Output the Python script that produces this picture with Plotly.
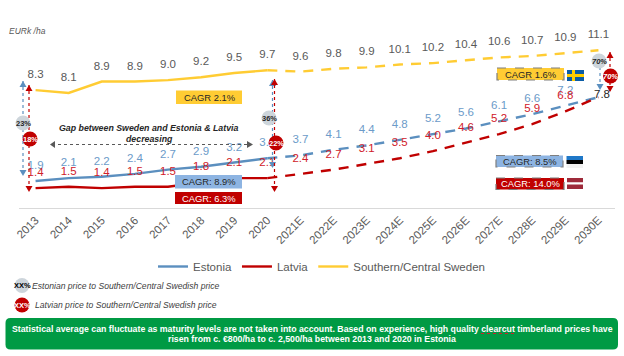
import plotly.graph_objects as go

years = ["2013","2014","2015","2016","2017","2018","2019","2020","2021E","2022E","2023E","2024E","2025E","2026E","2027E","2028E","2029E","2030E"]
estonia = [1.9,2.1,2.2,2.4,2.7,2.9,3.2,3.5,3.7,4.1,4.4,4.8,5.2,5.6,6.1,6.6,7.2,7.8]
latvia = [1.4,1.5,1.4,1.5,1.5,1.8,2.1,2.1,2.4,2.7,3.1,3.5,4.0,4.6,5.2,5.9,6.8,7.8]
sweden = [8.3,8.1,8.9,8.9,9.0,9.2,9.5,9.7,9.6,9.8,9.9,10.1,10.2,10.4,10.6,10.7,10.9,11.1]
HIST = 8  # points through 2020 are actual values

BLUE, RED, YEL = "#5B8FBF", "#C00000", "#FFCC33"
LBLUE, LRED, GREY = "#6C9BC9", "#D0202A", "#595959"
FONT = "Liberation Sans, Arial, sans-serif"
W, H = 624, 356
L, R, T, B = 19, 615, 30, 208

fig = go.Figure()

def series(name, vals, col, lab, labels_upto=18):
    fig.add_trace(go.Scatter(x=years[:HIST], y=vals[:HIST], mode="lines", name=name,
                             line=dict(color=col, width=2.4)))
    fig.add_trace(go.Scatter(x=years[HIST-1:], y=vals[HIST-1:], mode="lines", showlegend=False,
                             line=dict(color=col, width=2.4, dash="10px,8px")))
    fig.add_trace(go.Scatter(x=years[:labels_upto], y=vals[:labels_upto], mode="markers+text",
                             showlegend=False, hoverinfo="skip",
                             marker=dict(size=13, opacity=0),
                             text=[f"{v:.1f}" for v in vals[:labels_upto]],
                             textposition="top center",
                             textfont=dict(color=lab, size=11.5, family=FONT)))

series("Estonia", estonia, BLUE, LBLUE, 17)
series("Latvia", latvia, RED, LRED, 17)
series("Southern/Central Sweden", sweden, YEL, GREY)

def fx(p): return (p - L) / (R - L)
def fy(p): return (B - p) / (B - T)

shapes, anns = [], []

def rect(x0, y0, x1, y1, fill, line=None, dash=None):
    shapes.append(dict(type="rect", xref="paper", yref="paper", x0=fx(x0), x1=fx(x1), y0=fy(y0), y1=fy(y1),
                       fillcolor=fill, layer="above",
                       line=dict(color=line or fill, width=1.2 if line else 0, dash=dash or "solid")))

def text(x, y, s, size=9, color="#262626", anchor="center", bold=False, italic=False):
    t = s
    if bold: t = f"<b>{t}</b>"
    if italic: t = f"<i>{t}</i>"
    anns.append(dict(x=fx(x), y=fy(y), xref="paper", yref="paper", text=t, showarrow=False,
                     xanchor=anchor, yanchor="middle", borderpad=0,
                     font=dict(size=size, color=color, family=FONT)))

def circle(x, y, r, fill, s, color, size=7.5, italic=False):
    shapes.append(dict(type="circle", xref="paper", yref="paper", x0=fx(x-r), x1=fx(x+r), y0=fy(y-r), y1=fy(y+r),
                       fillcolor=fill, line=dict(width=0), layer="above"))
    text(x, y, s, size=size, color=color, bold=True, italic=italic)

def vline(x, y0, y1, col):
    shapes.append(dict(type="line", xref="paper", yref="paper", x0=fx(x), x1=fx(x), y0=fy(y0), y1=fy(y1),
                       line=dict(color=col, width=1.2, dash="dot"), layer="above"))

def tri(x, y, col, up=True, s=3.5, h=6):
    a = y + h if up else y - h
    path = f"M {fx(x-s)} {fy(a)} L {fx(x+s)} {fy(a)} L {fx(x)} {fy(y)} Z"
    shapes.append(dict(type="path", xref="paper", yref="paper", path=path, fillcolor=col,
                       line=dict(width=0), layer="above"))

for x, y0, y1, col, d0, d1 in [(23, 81, 176, BLUE, True, True), (29, 85, 192, RED, True, True),
                               (272.5, 80, 168, BLUE, True, True), (274.5, 79, 192, RED, True, True),
                               (600, 67, 90, BLUE, False, True), (610, 52, 92, RED, True, True)]:
    vline(x, y0, y1, col)
    if d0: tri(x, y0, col, True)
    if d1: tri(x, y1, col, False)

circle(23, 123, 7.5, "#CDD5DB", "23%", "#262626")
circle(30, 139, 7.5, RED, "18%", "white")
circle(269, 118, 7.5, "#CDD5DB", "36%", "#262626")
circle(276, 143, 7.5, RED, "22%", "white")
circle(599, 61, 7.5, "#CDD5DB", "70%", "#262626", italic=True)
circle(610.5, 76, 7.5, RED, "70%", "white", italic=True)

text(149, 128, "Gap between Sweden and Estonia &amp; Latvia", size=8.8, bold=True, italic=True)
text(149, 138.5, "decreasing", size=8.8, bold=True, italic=True)
shapes.append(dict(type="line", xref="paper", yref="paper", x0=fx(52), x1=fx(250), y0=fy(144.5), y1=fy(144.5),
                   line=dict(color="#595959", width=1, dash="dot"), layer="above"))
for a, b in [(50, 55), (253, 247)]:
    shapes.append(dict(type="path", xref="paper", yref="paper",
                       path=f"M {fx(a)} {fy(144.5)} L {fx(b)} {fy(141)} L {fx(b)} {fy(148)} Z",
                       fillcolor="#595959", line=dict(width=0), layer="above"))

# 2013-2020 growth boxes
rect(176, 90.5, 242, 104, YEL); text(209, 97, "CAGR 2.1%", 9.4)
rect(175, 175, 242, 188.5, "#8DB4E2"); text(208.5, 181.5, "CAGR: 8.9%", 9.4)
rect(175, 192, 242, 204, RED); text(208.5, 198, "CAGR: 6.3%", 9.4, "white")

# forecast growth boxes
rect(497, 68, 564, 80, YEL, "#7F7F7F", "dash"); text(530.5, 74, "CAGR 1.6%", 9.4)
rect(496, 155.5, 563, 167, "#8DB4E2", "#7F7F7F", "dash"); text(529.5, 161, "CAGR: 8.5%", 9.4)
rect(496, 178, 564, 189.5, RED, "#7F7F7F", "dash"); text(530, 183.5, "CAGR: 14.0%", 9.4, "white")

# flags
rect(567, 70, 584, 81, "#0B5CA5"); rect(572, 70, 575, 81, "#FFCC00"); rect(567, 74, 584, 77, "#FFCC00")
rect(566.5, 156, 583, 160, "#1F78C8"); rect(566.5, 160, 583, 164, "#000000")
rect(566.5, 164, 583, 168, "#F2F2F2")
rect(567, 178, 583, 182.5, "#9E2A3A"); rect(567, 182.5, 583, 184.5, "#FFFFFF"); rect(567, 184.5, 583, 189, "#9E2A3A")

# end value that sits on the converging lines
text(602, 94, f"{estonia[-1]:.1f}", 11.5, "#262626")

text(8, 31, "EURk /ha", 8.5, GREY, "left", italic=True)

# key for the bubbles
circle(22, 285.5, 7.5, "#CDD5DB", "XX%", "#000000", 7.5)
text(31, 285.5, "Estonian price to Southern/Central Swedish price", 8.6, "#404040", "left", italic=True)
circle(22, 305, 7.5, RED, "XX%", "white", 7.5)
text(33.5, 305, "Latvian price to Southern/Central Swedish price", 8.6, "#404040", "left", italic=True)

# green takeaway banner
x0, x1, y0, y1, r = 5.5, 618, 318, 349.5, 5
rx, ry = r / (R - L), r / (B - T)
shapes.append(dict(type="path", xref="paper", yref="paper", layer="above", fillcolor="#009A44", line=dict(width=0),
    path=(f"M {fx(x0)+rx} {fy(y0)} L {fx(x1)-rx} {fy(y0)} Q {fx(x1)} {fy(y0)} {fx(x1)} {fy(y0)-ry} "
          f"L {fx(x1)} {fy(y1)+ry} Q {fx(x1)} {fy(y1)} {fx(x1)-rx} {fy(y1)} "
          f"L {fx(x0)+rx} {fy(y1)} Q {fx(x0)} {fy(y1)} {fx(x0)} {fy(y1)+ry} "
          f"L {fx(x0)} {fy(y0)-ry} Q {fx(x0)} {fy(y0)} {fx(x0)+rx} {fy(y0)} Z")))
text(312, 329, "Statistical average can fluctuate as maturity levels are not taken into account. Based on experience, high quality clearcut timberland prices have", 8.75, "white", bold=True)
text(312, 339, "risen from c. €800/ha to c. 2,500/ha between 2013 and 2020 in Estonia", 8.75, "white", bold=True)
shapes.append(dict(type="line", xref="paper", yref="paper", x0=fx(481), x1=fx(514), y0=fy(333.5), y1=fy(333.5),
                   line=dict(color="#D0202A", width=1, dash="dot"), layer="above"))

fig.update_layout(
    width=W, height=H, margin=dict(l=L, r=W-R, t=T, b=H-B, pad=0, autoexpand=False),
    paper_bgcolor="white", plot_bgcolor="white", shapes=shapes, annotations=anns,
    font=dict(family=FONT, color=GREY),
    xaxis=dict(type="category", categoryorder="array", categoryarray=years, range=[-0.5, 17.5],
               showgrid=False, zeroline=False, showline=True, linecolor="#D9D9D9", linewidth=1,
               ticks="", tickangle=-45, tickfont=dict(size=11.5, color=GREY, family=FONT)),
    yaxis=dict(range=[0, 12.53], visible=False, fixedrange=True),
    showlegend=True,
    legend=dict(orientation="h", x=(153-L)/(R-L), y=(B-252)/(B-T), xanchor="left", yanchor="top",
                bgcolor="rgba(0,0,0,0)", font=dict(size=11.5, color=GREY, family=FONT),
                itemwidth=30, traceorder="normal"),
)
fig.write_html("out.html", post_script="document.body.style.margin='0';document.body.style.overflow='hidden';", config={"displayModeBar": False})
